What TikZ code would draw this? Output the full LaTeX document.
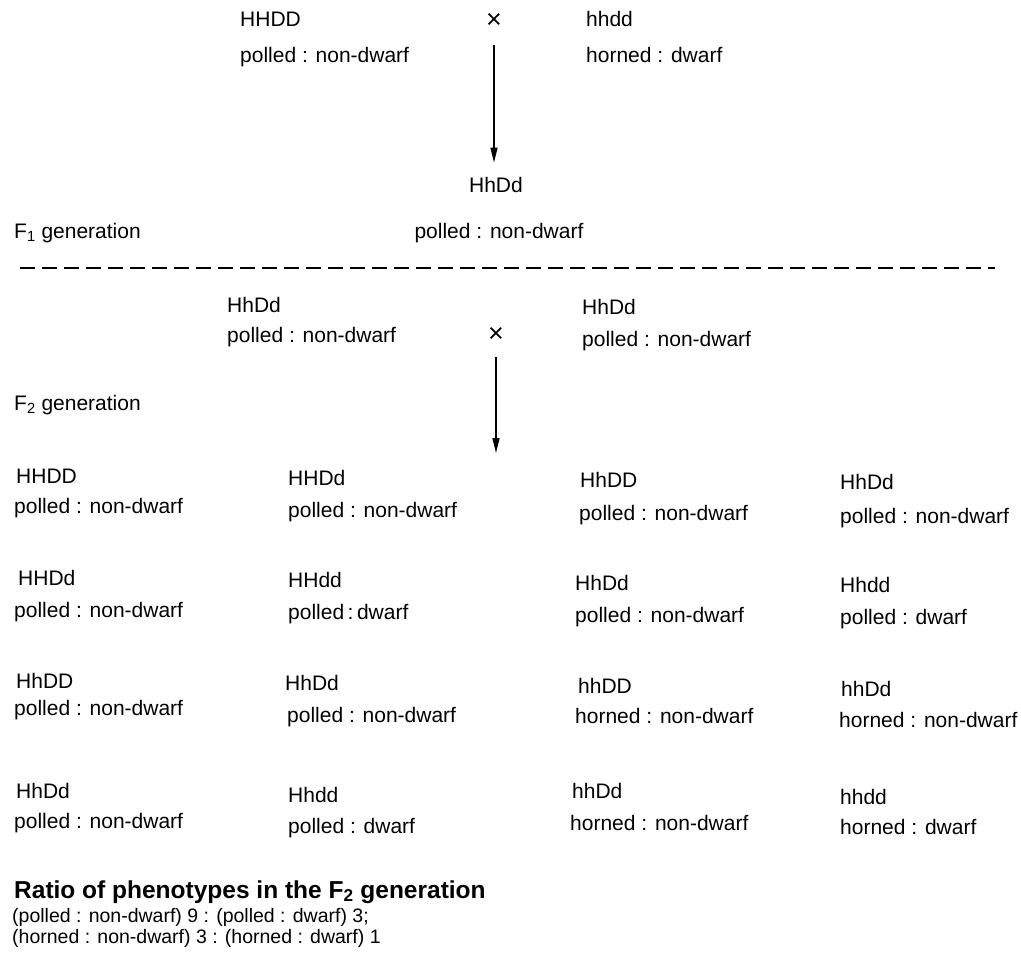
\documentclass[tikz,border=0pt]{standalone}
\usepackage{fontspec}
\setmainfont{Liberation Sans}
\usetikzlibrary{arrows.meta}
\begin{document}
\begin{tikzpicture}[x=1pt,y=-1pt,
  lbl/.style={anchor=base west, inner sep=0pt, font=\fontsize{21}{21}\selectfont},
  mid/.style={anchor=base, inner sep=0pt, font=\fontsize{21}{21}\selectfont},
  crossing/.style={anchor=center, inner sep=0pt, font=\fontsize{27}{27}\selectfont},
  descent/.style={line width=1.4pt, -{Triangle[length=15pt,width=7pt]}},
  divider/.style={line width=2.2pt, dash pattern=on 15pt off 7pt},
  heading/.style={anchor=base west, inner sep=0pt, font=\fontsize{24.5}{24.5}\selectfont\bfseries},
  summary/.style={anchor=base west, inner sep=0pt, font=\fontsize{19.5}{19.5}\selectfont}]

\useasboundingbox (0,0) rectangle (1021,955);

% parental cross
\node[lbl] (p1g) at (240,27) {HHDD};
\node[lbl] (p1p) at (240,63) {polled : non-dwarf};
\node[crossing] (x1) at (494,21) {×};
\node[lbl] (p2g) at (586,27) {hhdd};
\node[lbl] (p2p) at (586,63) {horned : dwarf};

% F1 offspring
\node[mid] (f1g) at (496,193) {HhDd};
\node[mid] (f1p) at (499,238) {polled : non-dwarf};
\node[lbl] (f1lab) at (14,238) {F\textsubscript{1} generation};
\draw[descent, shorten <=16pt, shorten >=15pt] (x1.south) -- (x1.south |- f1g.north);

% divider between generations
\coordinate (dl) at (20,268);
\coordinate (dr) at (995,268);
\draw[divider] (dl) -- (dr);

% F1 x F1 cross
\node[lbl] (m1g) at (227,312) {HhDd};
\node[lbl] (m1p) at (227,342) {polled : non-dwarf};
\node[crossing] (x2) at (496,335) {×};
\node[lbl] (m2g) at (582,314) {HhDd};
\node[lbl] (m2p) at (582,346) {polled : non-dwarf};
\node[lbl] (f2lab) at (14,410) {F\textsubscript{2} generation};
\coordinate (gridtop) at (495,453);
\draw[descent, shorten <=14pt] (x2.south) -- (x2.south |- gridtop);

% F2 offspring, row 1
\node[lbl] (a1g) at (16,483) {HHDD};
\node[lbl] (a1p) at (14,513) {polled : non-dwarf};
\node[lbl] (a2g) at (288,485) {HHDd};
\node[lbl] (a2p) at (288,517) {polled : non-dwarf};
\node[lbl] (a3g) at (580,487) {HhDD};
\node[lbl] (a3p) at (579,520) {polled : non-dwarf};
\node[lbl] (a4g) at (840,489) {HhDd};
\node[lbl] (a4p) at (840,523) {polled : non-dwarf};

% row 2
\node[lbl] (b1g) at (18,585) {HHDd};
\node[lbl] (b1p) at (14,617) {polled : non-dwarf};
\node[lbl] (b2g) at (288,587) {HHdd};
\node[lbl] (b2p) at (288,619) {polled\,:\,dwarf};
\node[lbl] (b3g) at (575,590) {HhDd};
\node[lbl] (b3p) at (575,622) {polled : non-dwarf};
\node[lbl] (b4g) at (840,592) {Hhdd};
\node[lbl] (b4p) at (840,624) {polled : dwarf};

% row 3
\node[lbl] (c1g) at (16,688) {HhDD};
\node[lbl] (c1p) at (14,715) {polled : non-dwarf};
\node[lbl] (c2g) at (285,690) {HhDd};
\node[lbl] (c2p) at (287,722) {polled : non-dwarf};
\node[lbl] (c3g) at (578,693) {hhDD};
\node[lbl] (c3p) at (575,723) {horned : non-dwarf};
\node[lbl] (c4g) at (841,696) {hhDd};
\node[lbl] (c4p) at (839,727) {horned : non-dwarf};

% row 4
\node[lbl] (d1g) at (16,798) {HhDd};
\node[lbl] (d1p) at (14,828) {polled : non-dwarf};
\node[lbl] (d2g) at (288,802) {Hhdd};
\node[lbl] (d2p) at (288,833) {polled : dwarf};
\node[lbl] (d3g) at (572,798) {hhDd};
\node[lbl] (d3p) at (570,830) {horned : non-dwarf};
\node[lbl] (d4g) at (840,804) {hhdd};
\node[lbl] (d4p) at (840,834) {horned : dwarf};

% phenotype ratio
\node[heading] (ratio) at (14,898) {Ratio of phenotypes in the F\textsubscript{2} generation};
\node[summary] (r1) at (12,922) {(polled : non-dwarf) 9 : (polled : dwarf) 3;};
\node[summary] (r2) at (12,943) {(horned : non-dwarf) 3 : (horned : dwarf) 1};
\end{tikzpicture}
\end{document}
